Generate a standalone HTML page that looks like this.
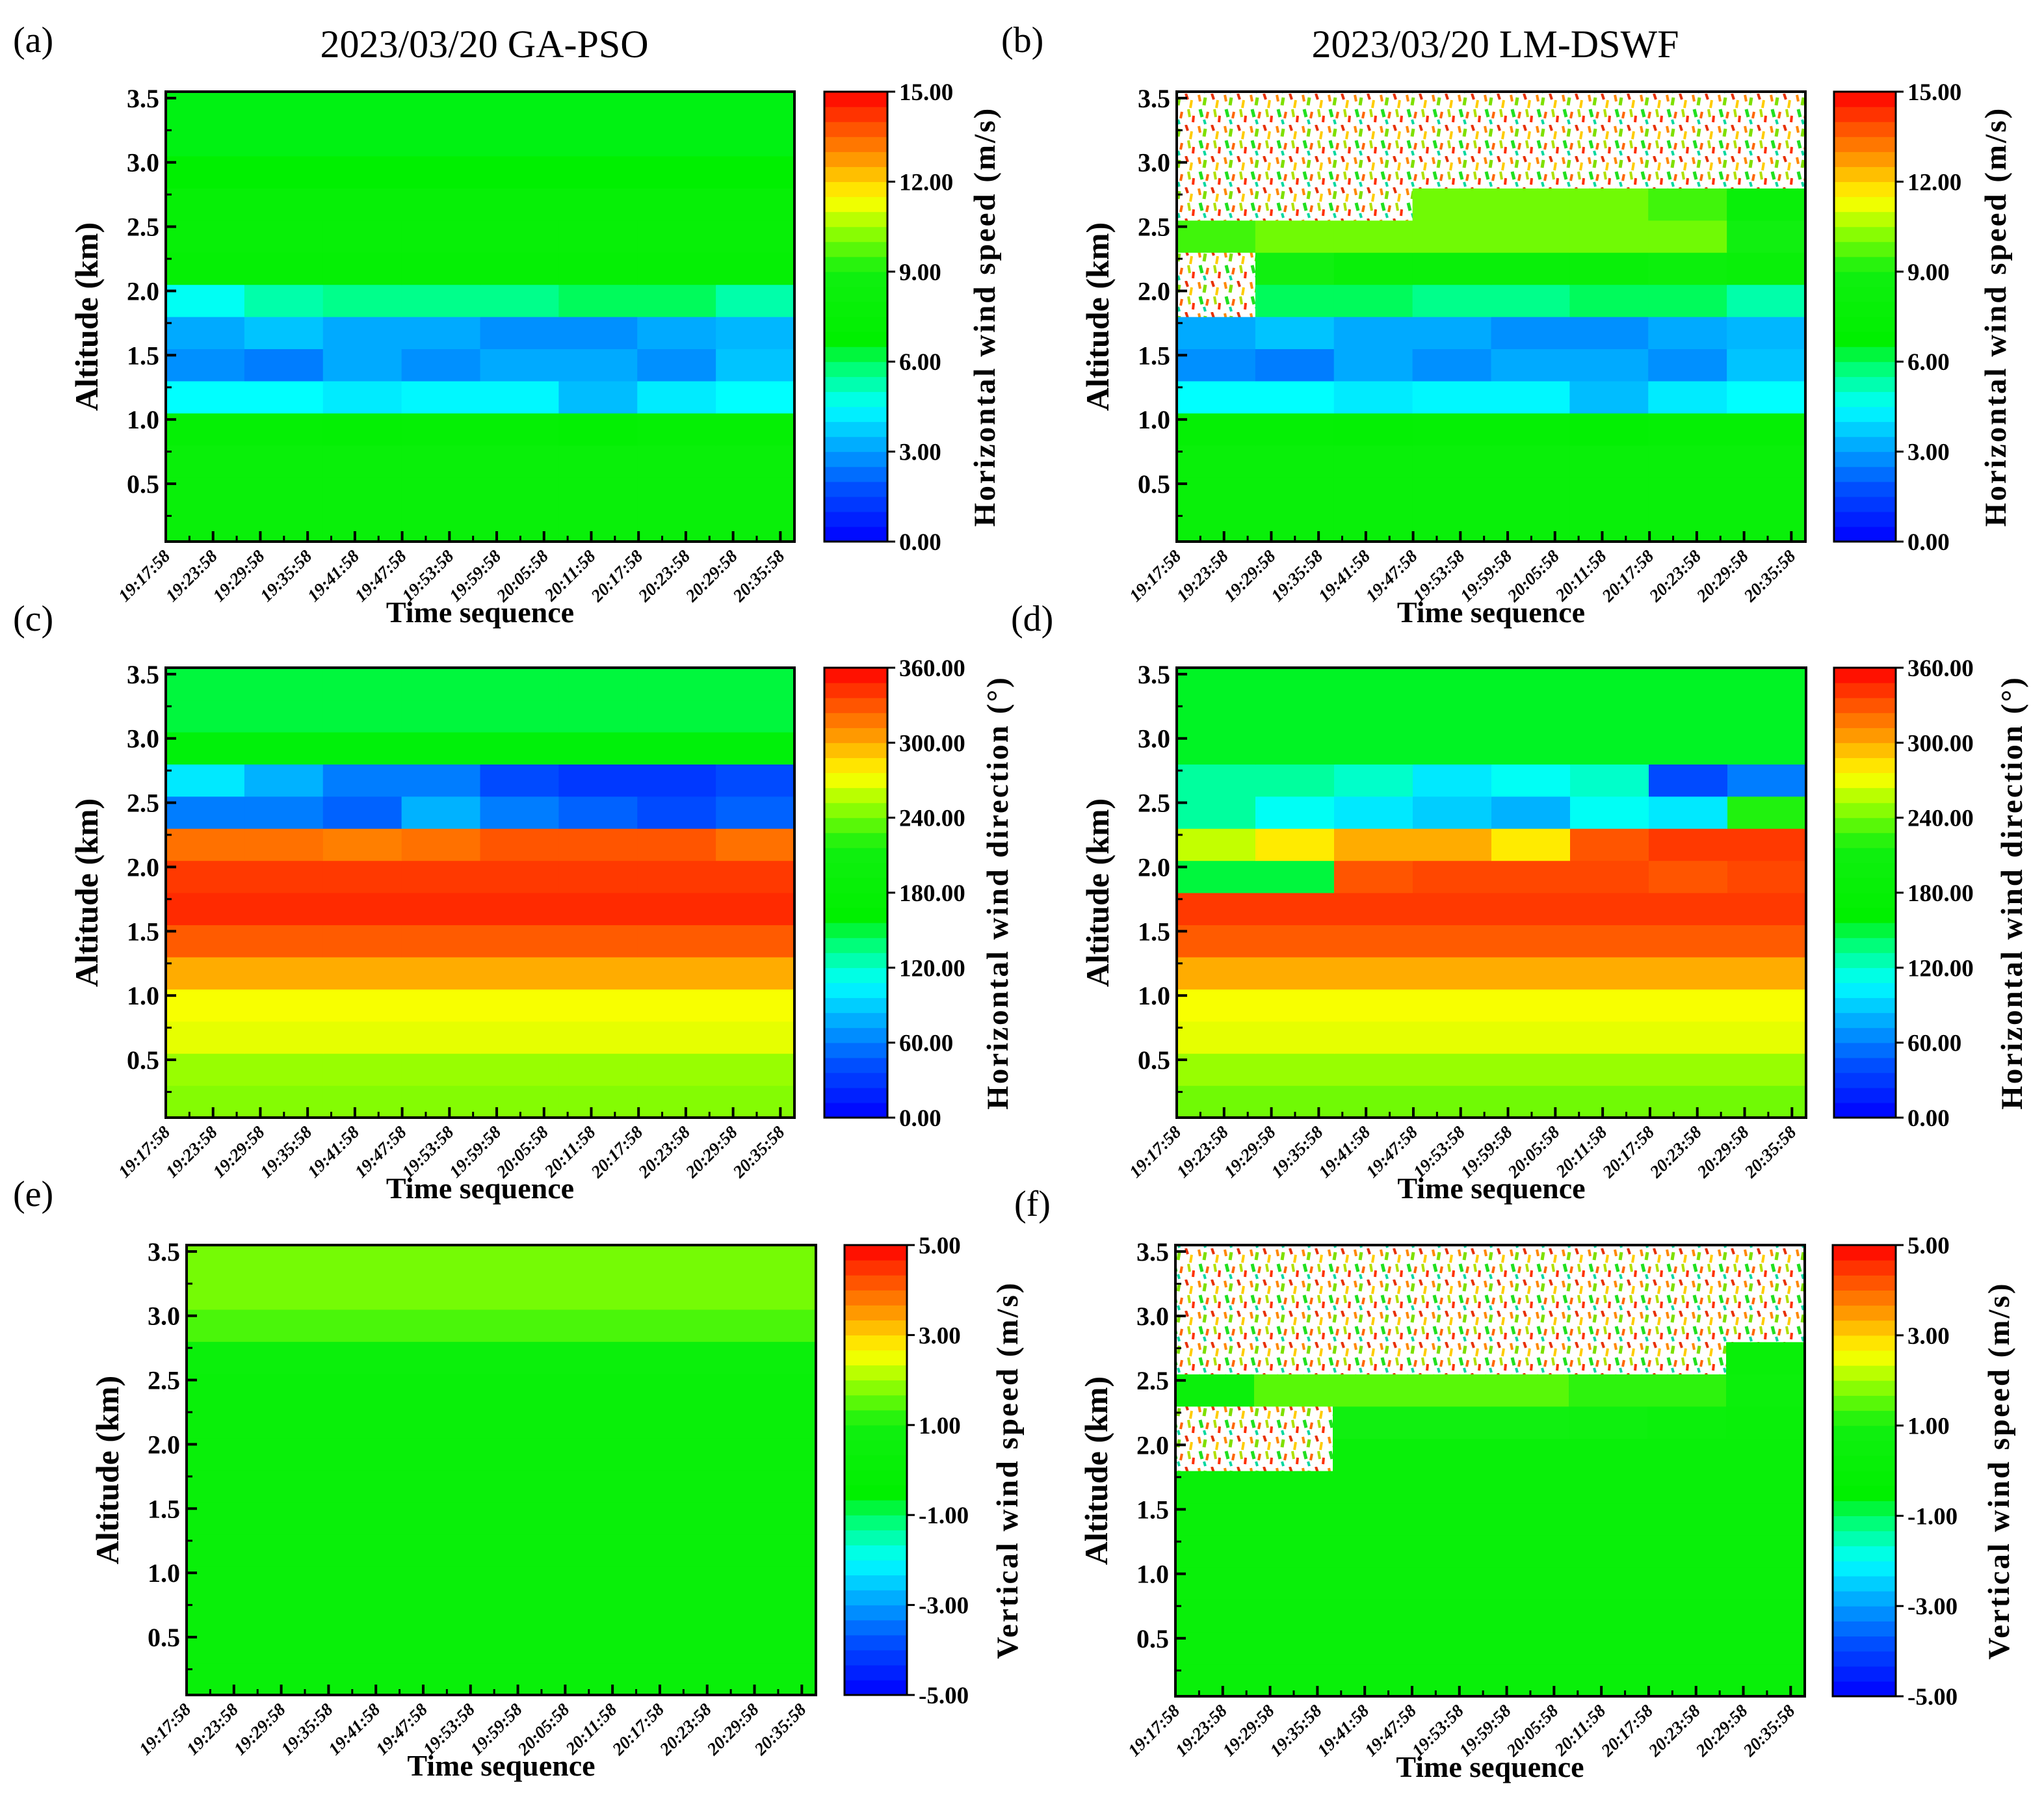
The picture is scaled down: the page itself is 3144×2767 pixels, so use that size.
<!DOCTYPE html>
<html><head><meta charset="utf-8">
<style>
html,body{margin:0;padding:0;background:#fff;}
svg{display:block;font-family:"Liberation Serif",serif;}
</style></head>
<body>
<svg id="fig" width="3144" height="2767" viewBox="0 0 3144 2767" xmlns="http://www.w3.org/2000/svg">
<defs>
<pattern id="speck" width="40" height="48" patternUnits="userSpaceOnUse">
<rect width="40" height="48" fill="#ffffff"/>
<path d="M4 2 l2 10" stroke="#ff8800" stroke-width="4"/>
<path d="M14 6 l-2 12" stroke="#7ee000" stroke-width="5"/>
<path d="M24 0 l3 9" stroke="#e83000" stroke-width="4"/>
<path d="M33 10 l-2 12" stroke="#ffcc00" stroke-width="4"/>
<path d="M6 24 l3 12" stroke="#20e020" stroke-width="5"/>
<path d="M18 28 l-2 10" stroke="#ff6600" stroke-width="4"/>
<path d="M28 24 l2 12" stroke="#b0e000" stroke-width="4"/>
<path d="M36 34 l-1 10" stroke="#ff3000" stroke-width="4"/>
<path d="M12 40 l2 7" stroke="#00d8a0" stroke-width="4"/>
</pattern>
</defs>
</svg>
<script>
// ---- data: rows bottom (0.05 km) to top (3.55 km), 14 rows x 8 time columns; -999 = sparse/speckled ----
const timeLabels = ["19:17:58","19:23:58","19:29:58","19:35:58","19:41:58","19:47:58","19:53:58","19:59:58","20:05:58","20:11:58","20:17:58","20:23:58","20:29:58","20:35:58"];
const altTicks = [0.5,1.0,1.5,2.0,2.5,3.0,3.5];
const speedTicks = [0,3,6,9,12,15];
const dirTicks = [0,60,120,180,240,300,360];
const vertTicks = [-5,-3,-1,1,3,5];
const gridA = [
[8,8,8,8,8,8,8,8],[8,8,8,8,8,8,8,8],[8,8,8,8,8,8,8,8],[7.4,7.5,7.3,7.5,7.4,7.2,7.5,7.5],
[4.5,4.5,4.2,4.4,4.4,3.5,4.2,4.5],[2.8,2.5,3.2,2.8,3.2,3.2,2.8,3.6],[3.2,3.6,3.2,3.2,2.8,2.8,3.2,3.4],[4.6,5.3,5.6,5.6,5.6,6,6,5.3],
[7.5,7.5,7.5,7.5,7.5,7.5,7.5,7.5],[7.8,7.8,7.8,7.8,7.8,7.8,7.8,7.8],[7.6,7.6,7.6,7.6,7.6,7.6,7.6,7.6],
[6.8,6.8,6.8,6.8,6.8,6.8,6.8,6.8],[6.6,6.6,6.6,6.6,6.6,6.6,6.6,6.6],[6.6,6.6,6.6,6.6,6.6,6.6,6.6,6.6]];
const gridB = [
[8,8,8,8,8,8,8,8],[8,8,8,8,8,8,8,8],[8,8,8,8,8,8,8,8],[7.4,7.5,7.3,7.5,7.4,7.2,7.5,7.5],
[4.5,4.5,4.2,4.4,4.4,3.5,4.2,4.5],[2.8,2.5,3.2,2.8,3.2,3.2,2.8,3.6],[3.2,3.6,3.2,3.2,2.8,2.8,3.2,3.4],[-999,6,6,5.6,5.6,6,6,5.3],
[-999,9,8,8,8,8,8.5,8],[9.5,10,10,10,10,10,10,9],[-999,-999,-999,10,10,10,9.5,8],
[-999,-999,-999,-999,-999,-999,-999,-999],[-999,-999,-999,-999,-999,-999,-999,-999],[-999,-999,-999,-999,-999,-999,-999,-999]];
const gridC = [
[245,245,245,245,245,245,245,245],[250,250,250,250,250,250,250,250],[268,268,268,268,268,268,268,268],[272,272,272,272,272,272,272,272],
[300,300,300,300,300,300,300,300],[328,328,328,328,328,328,328,328],[345,345,345,345,345,345,345,345],[340,340,340,340,340,340,340,340],
[320,320,315,320,330,330,330,320],[60,60,50,80,60,50,40,50],[100,80,60,60,40,30,30,40],
[160,160,160,160,160,160,160,160],[150,150,150,150,150,150,150,150],[150,150,150,150,150,150,150,150]];
const gridD = [
[240,240,240,240,240,240,240,240],[250,250,250,250,250,250,250,250],[268,268,268,268,268,268,268,268],[272,272,272,272,272,272,272,272],
[300,300,300,300,300,300,300,300],[328,328,328,328,328,328,328,328],[340,340,340,340,340,340,340,340],[150,150,330,335,335,335,330,335],
[260,280,300,300,280,330,340,340],[130,110,100,90,80,110,100,220],[130,130,120,100,110,120,40,60],
[155,155,155,155,155,155,155,155],[155,155,155,155,155,155,155,155],[155,155,155,155,155,155,155,155]];
const gridE = [
[0.3,0.3,0.3,0.3,0.3,0.3,0.3,0.3],[0.3,0.3,0.3,0.3,0.3,0.3,0.3,0.3],[0.3,0.3,0.3,0.3,0.3,0.3,0.3,0.3],[0.3,0.3,0.3,0.3,0.3,0.3,0.3,0.3],
[0.3,0.3,0.3,0.3,0.3,0.3,0.3,0.3],[0.3,0.3,0.3,0.3,0.3,0.3,0.3,0.3],[0.3,0.3,0.3,0.3,0.3,0.3,0.3,0.3],[0.3,0.3,0.3,0.3,0.3,0.3,0.3,0.3],
[0.3,0.3,0.3,0.3,0.3,0.3,0.3,0.3],[0.3,0.3,0.3,0.3,0.3,0.3,0.3,0.3],[0.5,0.5,0.5,0.5,0.5,0.5,0.5,0.5],
[1.4,1.4,1.4,1.4,1.4,1.4,1.4,1.4],[1.7,1.7,1.7,1.7,1.7,1.7,1.7,1.7],[1.7,1.7,1.7,1.7,1.7,1.7,1.7,1.7]];
const gridF = [
[0.3,0.3,0.3,0.3,0.3,0.3,0.3,0.3],[0.3,0.3,0.3,0.3,0.3,0.3,0.3,0.3],[0.3,0.3,0.3,0.3,0.3,0.3,0.3,0.3],[0.3,0.3,0.3,0.3,0.3,0.3,0.3,0.3],
[0.3,0.3,0.3,0.3,0.3,0.3,0.3,0.3],[0.3,0.3,0.3,0.3,0.3,0.3,0.3,0.3],[0.3,0.3,0.3,0.3,0.3,0.3,0.3,0.3],[-999,-999,0.3,0.3,0.3,0.3,0.3,0.3],
[-999,-999,1,1,1,0.8,0.5,0.3],[0.5,1.5,1.5,1.5,1.5,1.2,1.2,0.5],[-999,-999,-999,-999,-999,-999,-999,0.3],
[-999,-999,-999,-999,-999,-999,-999,-999],[-999,-999,-999,-999,-999,-999,-999,-999],[-999,-999,-999,-999,-999,-999,-999,-999]];

const NS="http://www.w3.org/2000/svg";
const svg=document.getElementById('fig');
const stops=[[0,[0,0,255]],[0.12,[0,80,255]],[0.22,[0,176,255]],[0.3,[0,255,255]],[0.38,[0,255,128]],[0.45,[0,240,0]],[0.6,[16,240,16]],[0.7,[160,255,0]],[0.76,[255,255,0]],[0.85,[255,153,0]],[1,[255,0,0]]];
function cmap(t){t=Math.max(0,Math.min(1,t));for(let i=1;i<stops.length;i++){if(t<=stops[i][0]){const a=stops[i-1],b=stops[i];const f=(t-a[0])/(b[0]-a[0]);const c=a[1].map((v,k)=>Math.round(v+(b[1][k]-v)*f));return `rgb(${c[0]},${c[1]},${c[2]})`;}}return 'rgb(255,0,0)';}
function el(tag,attrs,parent){const e=document.createElementNS(NS,tag);for(const k in attrs)e.setAttribute(k,attrs[k]);(parent||svg).appendChild(e);return e;}

const panels=[
{id:'a',grid:gridA,px:255,py:141,pw:967,ph:692,cbx:1268,cbw:97,lab:'(a)',lx:20,ly:80,title:'2023/03/20 GA-PSO',tx:745,min:0,max:15,ticks:speedTicks,cbt:'Horizontal wind speed (m/s)',cbtx:1530},
{id:'b',grid:gridB,px:1810,py:141,pw:967,ph:692,cbx:2821,cbw:95,lab:'(b)',lx:1540,ly:80,title:'2023/03/20 LM-DSWF',tx:2300,min:0,max:15,ticks:speedTicks,cbt:'Horizontal wind speed (m/s)',cbtx:3085},
{id:'c',grid:gridC,px:255,py:1027,pw:967,ph:692,cbx:1268,cbw:97,lab:'(c)',lx:20,ly:970,min:0,max:360,ticks:dirTicks,cbt:'Horizontal wind direction (°)',cbtx:1550},
{id:'d',grid:gridD,px:1810,py:1027,pw:968,ph:692,cbx:2821,cbw:95,lab:'(d)',lx:1555,ly:970,min:0,max:360,ticks:dirTicks,cbt:'Horizontal wind direction (°)',cbtx:3110},
{id:'e',grid:gridE,px:287,py:1915,pw:968,ph:692,cbx:1299,cbw:96,lab:'(e)',lx:20,ly:1855,min:-5,max:5,ticks:vertTicks,cbt:'Vertical wind speed (m/s)',cbtx:1565},
{id:'f',grid:gridF,px:1808,py:1915,pw:968,ph:694,cbx:2819,cbw:97,lab:'(f)',lx:1560,ly:1870,min:-5,max:5,ticks:vertTicks,cbt:'Vertical wind speed (m/s)',cbtx:3090}
];
const altMin=0.05,altMax=3.55;
panels.forEach(p=>{
  const g=el('g',{});
  
  
  const yS=v=>p.py+p.ph-(v-altMin)/(altMax-altMin)*p.ph;
  const step=p.pw*0.0752;
  const xT=i=>p.px+i*step;
  const rows=p.grid.length,cols=p.grid[0].length;
  const hm=el('g',{},g);
  
  
  const dh=(altMax-altMin)/rows;
  p.grid.forEach((row,r)=>{row.forEach((v,c)=>{
    const x0=p.px+c*p.pw/cols,x1=p.px+(c+1)*p.pw/cols;
    const y1=yS(altMin+r*dh),y0=yS(altMin+(r+1)*dh);
    const fill=v<=-900?'url(#speck)':cmap((v-p.min)/(p.max-p.min));
    const cell=el('rect',{x:x0,y:y0,width:x1-x0+0.6,height:y1-y0+0.6,fill:fill},hm);
    
    
  });});
  const fr=el('rect',{x:p.px,y:p.py,width:p.pw,height:p.ph,fill:'none',stroke:'#000','stroke-width':4},g);
  
  
  altTicks.forEach(v=>{
    const y=yS(v);
    el('line',{x1:p.px,x2:p.px+16,y1:y,y2:y,stroke:'#000','stroke-width':4},g);
    const t=el('text',{x:p.px-10,y:y+14,'text-anchor':'end','font-size':40,'font-weight':'bold'},g);
    t.textContent=v.toFixed(1);
    
    
    const m=yS(v-0.25);
    if(v-0.25>altMin) el('line',{x1:p.px,x2:p.px+9,y1:m,y2:m,stroke:'#000','stroke-width':3},g);
  });
  timeLabels.forEach((lab,i)=>{
    const x=xT(i);
    el('line',{x1:x,x2:x,y1:p.py+p.ph,y2:p.py+p.ph-16,stroke:'#000','stroke-width':4},g);
    if(i<timeLabels.length-1) el('line',{x1:x+step/2,x2:x+step/2,y1:p.py+p.ph,y2:p.py+p.ph-9,stroke:'#000','stroke-width':3},g);
    const t=el('text',{x:x+8,y:p.py+p.ph+24,'text-anchor':'end','font-size':27,'font-weight':'bold','font-style':'italic',transform:`rotate(-45 ${x+8} ${p.py+p.ph+24})`},g);
    t.textContent=lab;
    
    
  });
  const xt=el('text',{x:p.px+p.pw/2,y:p.py+p.ph+124,'text-anchor':'middle','font-size':46,'font-weight':'bold'},g);
  xt.textContent='Time sequence';
  
  
  const ytx=p.px-105,yty=p.py+p.ph/2;
  const yt=el('text',{x:ytx,y:yty,'text-anchor':'middle','font-size':50,'font-weight':'bold',transform:`rotate(-90 ${ytx} ${yty})`},g);
  yt.textContent='Altitude (km)';
  
  
  const cb=el('g',{},g);
  
  
  const nb=30;
  for(let k=0;k<nb;k++){
    const y0=p.py+p.ph-(k+1)*p.ph/nb;
    el('rect',{x:p.cbx,y:y0,width:p.cbw,height:p.ph/nb+0.6,fill:cmap((k+0.5)/nb)},cb);
  }
  el('rect',{x:p.cbx,y:p.py,width:p.cbw,height:p.ph,fill:'none',stroke:'#000','stroke-width':3},cb);
  p.ticks.forEach(v=>{
    const y=p.py+p.ph-(v-p.min)/(p.max-p.min)*p.ph;
    el('line',{x1:p.cbx+p.cbw,x2:p.cbx+p.cbw+12,y1:y,y2:y,stroke:'#000','stroke-width':3},cb);
    const t=el('text',{x:p.cbx+p.cbw+18,y:y+13,'font-size':37,'font-weight':'bold'},cb);
    t.textContent=v.toFixed(2);
    
    
  });
  const cty=p.py+p.ph/2;
  const ct=el('text',{x:p.cbtx,y:cty,'text-anchor':'middle','font-size':47,'font-weight':'bold','letter-spacing':3,transform:`rotate(-90 ${p.cbtx} ${cty})`},g);
  ct.textContent=p.cbt;
  
  
  const pl=el('text',{x:p.lx,y:p.ly,'font-size':56},g);
  pl.textContent=p.lab;
  
  
  if(p.title){
    const tt=el('text',{x:p.tx,y:88,'text-anchor':'middle','font-size':60},g);
    tt.textContent=p.title;
    
    
  }
});
</script>
</body></html>
